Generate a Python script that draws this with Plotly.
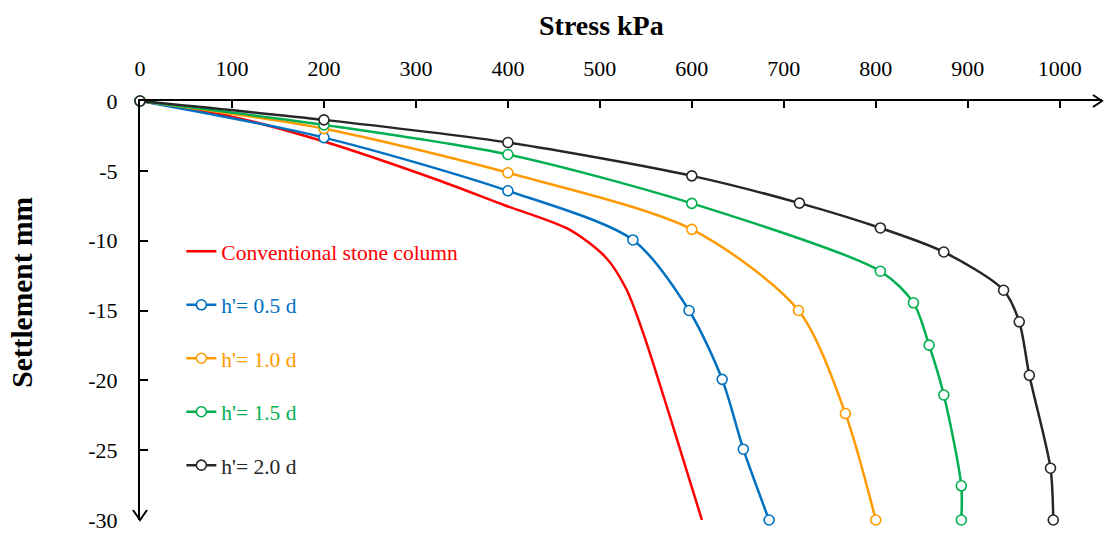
import plotly.graph_objects as go

# ---- data ----
conv_stress = [0, 100, 200, 323, 395, 467, 507, 529, 547, 576, 611]
conv_settle = [0, -1.12, -2.9, -5.64, -7.43, -9.21, -11.24, -13.5, -16.59, -22.55, -30]

h05_stress = [0, 200, 400, 536, 597, 633, 656, 684]
h05_settle = [0, -2.62, -6.43, -9.95, -15.0, -19.93, -24.93, -30]

h10_stress = [0, 200, 400, 600, 716, 767, 800]
h10_settle = [0, -1.98, -5.14, -9.19, -15.0, -22.38, -30]

h15_stress = [0, 200, 400, 600, 805, 841, 858, 874, 893, 893]
h15_settle = [0, -1.71, -3.83, -7.33, -12.19, -14.45, -17.48, -21.05, -27.55, -30]

h20_stress = [0, 200, 400, 600, 717, 805, 874, 939, 956, 967, 990, 993]
h20_settle = [0, -1.35, -2.97, -5.36, -7.31, -9.09, -10.81, -13.55, -15.81, -19.64, -26.29, -30]

x_ticks = [0, 100, 200, 300, 400, 500, 600, 700, 800, 900, 1000]
y_ticks = [0, -5, -10, -15, -20, -25, -30]
y_tick_text = ["0", "-5", "-10", "-15", "-20", "-25", "-30"]

series_names = ["Conventional stone column", "h'= 0.5 d", "h'= 1.0 d", "h'= 1.5 d", "h'= 2.0 d"]
colors = ["#FF0000", "#0070C0", "#FF9A00", "#00B050", "#262626"]

FONT = "Times New Roman, Liberation Serif, serif"

fig = go.Figure()

data = [
    (conv_stress, conv_settle),
    (h05_stress, h05_settle),
    (h10_stress, h10_settle),
    (h15_stress, h15_settle),
    (h20_stress, h20_settle),
]

for i, ((xs, ys), name, col) in enumerate(zip(data, series_names, colors)):
    if i == 0:
        fig.add_trace(go.Scatter(
            x=xs, y=ys, mode="lines",
            line=dict(color=col, width=2.5, shape="spline", smoothing=0.8),
            name=f'<span style="color:{col}">{name}</span>',
            legendgroup=f"g{i}", cliponaxis=False))
    else:
        fig.add_trace(go.Scatter(
            x=xs, y=ys, mode="lines+markers",
            line=dict(color=col, width=2.5, shape="spline", smoothing=0.8),
            marker=dict(symbol="circle", size=10, color="white",
                        line=dict(color=col, width=1.6)),
            name=f'<span style="color:{col}">{name}</span>',
            legendgroup=f"g{i}", cliponaxis=False))

X_MAX = 1046

fig.update_layout(
    width=1111, height=534,
    margin=dict(l=140, r=9, t=101, b=14),
    paper_bgcolor="white", plot_bgcolor="white",
    font=dict(family=FONT, size=22, color="black"),
    showlegend=True,
    legend=dict(
        x=0.043, y=0.690, xanchor="left", yanchor="top",
        bgcolor="rgba(0,0,0,0)", borderwidth=0,
        font=dict(family=FONT, size=21.5),
        tracegroupgap=22.5, itemwidth=30,
    ),
    xaxis=dict(
        range=[0, X_MAX], side="top", automargin=False,
        showline=True, linecolor="black", linewidth=2,
        ticks="inside", ticklen=7, tickwidth=2, tickcolor="black",
        tickvals=x_ticks, showgrid=False, zeroline=False,
        tickfont=dict(family=FONT, size=22, color="black"),
        ticklabelstandoff=14,
    ),
    yaxis=dict(
        range=[-30, 0], automargin=False,
        showline=True, linecolor="black", linewidth=2,
        ticks="inside", ticklen=8, tickwidth=2, tickcolor="black",
        tickvals=y_ticks, ticktext=y_tick_text,
        showgrid=False, zeroline=False,
        tickfont=dict(family=FONT, size=22, color="black"),
        ticklabelstandoff=16,
    ),
    annotations=[
        dict(text="<b>Stress kPa</b>", xref="x", yref="paper", x=502, y=1.181,
             xanchor="center", yanchor="middle", showarrow=False,
             font=dict(family=FONT, size=28, color="black")),
        dict(text="<b>Settlement mm</b>", xref="paper", yref="paper", x=-0.123, y=0.544,
             xanchor="center", yanchor="middle", showarrow=False, textangle=-90,
             font=dict(family=FONT, size=29.5, color="black")),
    ],
    shapes=[
        dict(type="path", xref="paper", yref="paper", xsizemode="pixel", ysizemode="pixel",
             xanchor=1, yanchor=1, path="M-9,6 L0,0 L-9,-6",
             line=dict(color="black", width=2)),
        dict(type="path", xref="paper", yref="paper", xsizemode="pixel", ysizemode="pixel",
             xanchor=0, yanchor=0, path="M-7,10 L0,0 L7,10",
             line=dict(color="black", width=2)),
    ],
)

fig.write_html("out.html")
